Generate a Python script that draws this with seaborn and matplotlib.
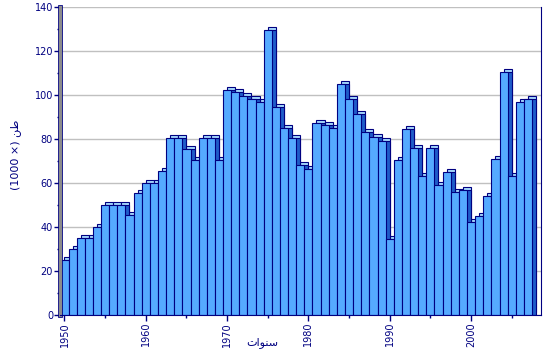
import numpy as np
import matplotlib
matplotlib.use('Agg')
import matplotlib.pyplot as plt
import matplotlib.transforms as mtransforms
import matplotlib.patheffects as pe
from matplotlib.ticker import MultipleLocator, FixedLocator
import seaborn as sns

years = list(range(1950, 2008))
tonnes = [25, 30, 35, 35, 40, 50, 50, 50, 45.5, 55.5,
          60, 60, 65.5, 80.5, 80.5, 75.5, 70.5, 80.5, 80.5, 70.5,
          102.5, 101.5, 99.5, 98, 97, 129.5, 94.5, 85, 80.5, 68,
          66.5, 87.5, 86.5, 85, 105, 98, 91.5, 83, 81, 79,
          34.5, 70.5, 84.5, 76, 63, 76, 59, 65, 56, 57,
          42.5, 45, 54, 71, 110.5, 63, 97, 98]
year_labels = ['1950', '1960', '1970', '1980', '1990', '2000']
y_ticks = [0, 20, 40, 60, 80, 100, 120, 140]
x_title = 'سنوات'
y_unit = 'طن'
y_mult = '(1000 ×)'

# matplotlib has no arabic shaping, so pick the presentation forms by hand
# (isolated, initial, medial, final)
forms = {
    'س': '\uFEB1\uFEB3\uFEB4\uFEB2',
    'ن': '\uFEE5\uFEE7\uFEE8\uFEE6',
    'ت': '\uFE95\uFE97\uFE98\uFE96',
    'ط': '\uFEC1\uFEC3\uFEC4\uFEC2',
    'و': '\uFEED\uFEED\uFEEE\uFEEE',
    'ا': '\uFE8D\uFE8D\uFE8E\uFE8E',
}
right_only = 'وا'

def shape(word):
    out = []
    for i, ch in enumerate(word):
        prev_j = i > 0 and word[i - 1] in forms and word[i - 1] not in right_only
        next_j = i < len(word) - 1 and word[i + 1] in forms and ch not in right_only
        if prev_j and next_j:
            k = 2
        elif prev_j:
            k = 3
        elif next_j:
            k = 1
        else:
            k = 0
        out.append(forms[ch][k] if ch in forms else ch)
    return ''.join(reversed(out))

navy = '#000080'
front = '#55aaff'
cap = '#a8dcff'
side = '#1f5cc8'

sns.set_style('white')
plt.rcParams['font.family'] = ['DejaVu Sans']

fig = plt.figure(figsize=(5.52, 3.6), dpi=100)
ax = fig.add_axes([60 / 552, 45 / 360, 481 / 552, 308 / 360])

def shifted(dx, dy):
    return mtransforms.offset_copy(ax.transData, fig=fig, x=dx, y=dy, units='dots')

# depth: light top, dark side, then the front faces
for col, dx, dy in [(cap, 4, 3), (side, 4, 0)]:
    n0 = len(ax.patches)
    sns.barplot(x=years, y=tonnes, color=col, width=1.0, saturation=1,
                edgecolor=navy, linewidth=0.8, ax=ax)
    for p in ax.patches[n0:]:
        p.set_transform(shifted(dx, dy))
sns.barplot(x=years, y=tonnes, color=front, width=1.0, saturation=1,
            edgecolor=navy, linewidth=0.8, ax=ax)

ax.set_ylim(0, 140)
ax.set_xlim(-0.55, 58.6)
ax.set_yticks(y_ticks)
ax.yaxis.set_minor_locator(MultipleLocator(10))
ax.yaxis.grid(True, color='#c0c0c0', linewidth=1)
ax.set_axisbelow(True)

major_pos = [years.index(int(y)) for y in year_labels]
ax.xaxis.set_major_locator(FixedLocator(major_pos))
ax.set_xticklabels(year_labels, rotation=90)
ax.xaxis.set_minor_locator(FixedLocator([p + 5 for p in major_pos]))

ax.tick_params(axis='both', which='major', direction='out', length=4, width=1,
               color=navy, labelcolor=navy, labelsize=7, pad=1)
ax.tick_params(axis='both', which='minor', direction='out', length=2.5, width=1,
               color=navy)
ax.tick_params(axis='x', which='both', bottom=True)
ax.tick_params(axis='y', which='both', left=True)

ax.spines['top'].set_visible(False)
ax.spines['right'].set_color(navy)
ax.spines['bottom'].set_color(navy)
ax.spines['left'].set_color('#8c8c8c')
ax.spines['left'].set_linewidth(2.2)
ax.spines['left'].set_path_effects([pe.withStroke(linewidth=3.4, foreground=navy)])

ax.set_xlabel(shape(x_title), color=navy, fontsize=8)
ax.xaxis.set_label_coords(0.42, -0.072)
ax.set_ylabel(y_mult + ' ' + shape(y_unit), color=navy, fontsize=8)
ax.yaxis.set_label_coords(-0.082, 0.52)

fig.savefig('out.png', dpi=100)
